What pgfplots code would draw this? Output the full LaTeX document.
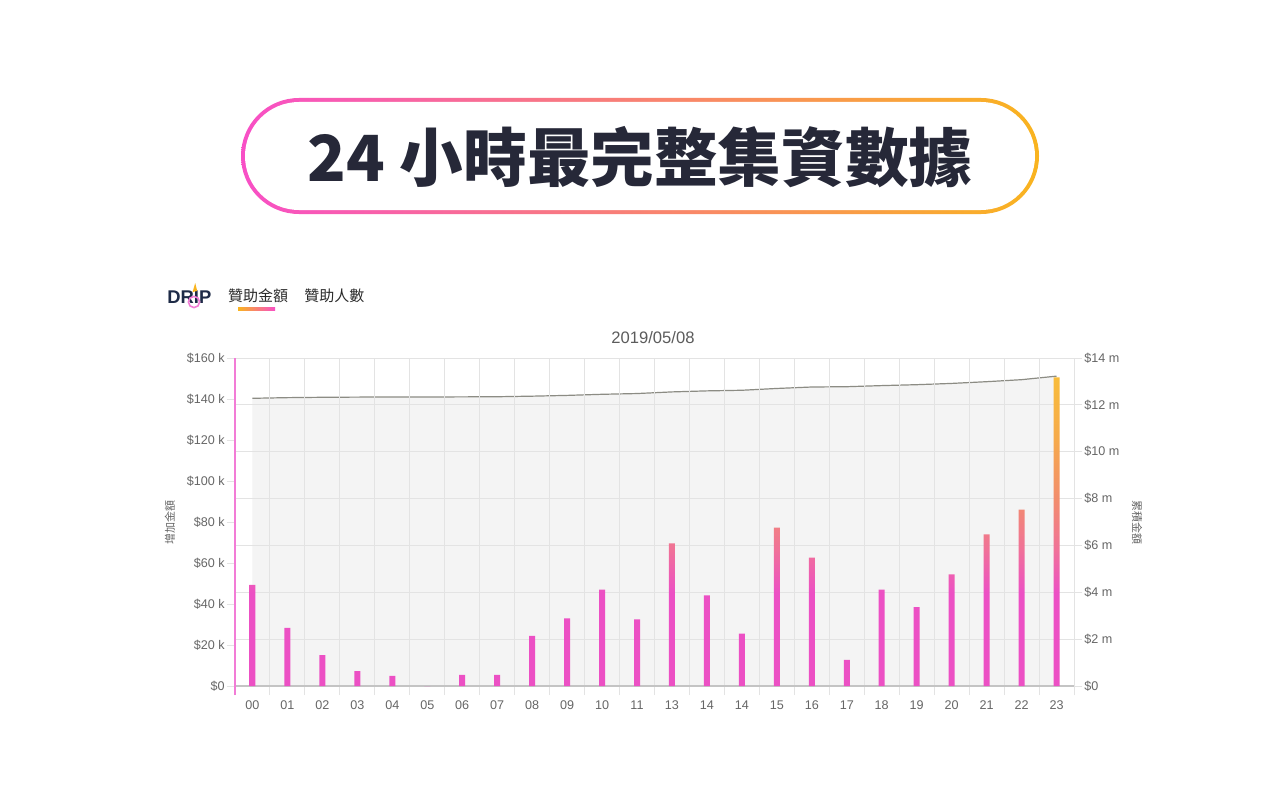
\documentclass[border=0pt]{standalone}
\usepackage{fontspec}
\setmainfont{Liberation Sans}
\newfontfamily\cjk{Noto Sans CJK TC}
\usepackage{pgfplots}
\usepackage{pgfplotstable}
\pgfplotsset{compat=1.18}

\definecolor{titlenavy}{HTML}{262838}
\definecolor{framepink}{HTML}{F84FC6}
\definecolor{frameorange}{HTML}{F9B41F}
\definecolor{logonavy}{HTML}{1E2B47}
\definecolor{tabtext}{HTML}{2A2A2A}
\definecolor{ticktext}{HTML}{666666}
\definecolor{gridgray}{HTML}{E3E3E3}
\definecolor{axisgray}{HTML}{C4C4C4}
\definecolor{axispink}{HTML}{F27CD6}
\definecolor{areagray}{HTML}{F4F4F4}
\definecolor{linegray}{HTML}{8C8C84}
\definecolor{barpink}{RGB}{236,80,196}
\definecolor{barsalmon}{RGB}{240,115,150}
\definecolor{barorange}{RGB}{242,140,110}
\definecolor{baramber}{RGB}{246,170,75}
\definecolor{baryellow}{RGB}{248,188,58}

% one gradient for all bars: pink at $0, yellow at the tallest bar
\pgfdeclareverticalshading{barshade}{100bp}{color(0bp)=(barpink); color(25bp)=(barpink);
  color(40bp)=(barpink); color(47.5bp)=(barsalmon); color(55bp)=(barorange);
  color(65bp)=(baramber); color(75bp)=(baryellow); color(100bp)=(baryellow)}

% x = hour slot, amt = raised in the hour (k), cum = running total (m)
\pgfplotstableread{
x  amt    cum
0  49.3   12.280
1  28.3   12.308
2  15.1   12.323
3  7.3    12.331
4  4.9    12.336
5  0      12.336
6  5.4    12.341
7  5.4    12.347
8  24.4   12.371
9  33.0   12.404
10 47.0   12.451
11 32.5   12.483
12 69.6   12.553
13 44.2   12.597
14 25.5   12.623
15 77.2   12.700
16 62.6   12.762
17 12.7   12.775
18 47.0   12.822
19 38.5   12.861
20 54.5   12.915
21 74.0   12.989
22 86.0   13.075
23 150.6  13.226
}\hourly

\pgfplotsset{
  dripaxis/.style={
    at={(117.5pt,57pt)}, anchor=south west,
    scale only axis, width=419.5pt, height=164pt,
    xmin=-0.5, xmax=23.5, ymin=0,
    tick align=outside,
    major tick length=4pt, minor tick length=4.5pt,
    tick label style={font=\fontsize{6.3}{7.5}\selectfont, text=ticktext},
    tick style={draw=gridgray, line width=0.5pt},
    grid style={draw=gridgray, line width=0.5pt},
  },
}

\begin{document}
\begin{tikzpicture}
\fill[white] (0,0) rectangle (640pt,400pt);
\useasboundingbox (0,0) rectangle (640pt,400pt);

% headline in a pill with a pink-to-orange border
\shade[left color=framepink, right color=frameorange, rounded corners=29pt]
  (120.5pt,293pt) rectangle (519.5pt,351pt);
\fill[white, rounded corners=27pt] (122.5pt,295pt) rectangle (517.5pt,349pt);
\node[font=\cjk\bfseries\fontsize{31.8}{38}\selectfont, text=titlenavy]
  at (320pt,321.5pt) {24 小時最完整集資數據};

% logo and tabs
\node[font=\bfseries\fontsize{9.2}{11}\selectfont, text=logonavy, anchor=west, inner sep=0pt]
  at (83.5pt,251.5pt) {DRIP};
\draw[axispink, line width=0.8pt] (97pt,249pt) circle (2.8pt);
\fill[frameorange] (96.3pt,254pt) -- (97.6pt,258.5pt) -- (98.6pt,254.5pt) -- cycle;
\node[font=\cjk\fontsize{7.5}{9}\selectfont, text=tabtext] at (129pt,252pt) {贊助金額};
\node[font=\cjk\fontsize{7.5}{9}\selectfont, text=tabtext] at (167.2pt,252pt) {贊助人數};
\shade[left color=frameorange, right color=framepink] (119pt,244.7pt) rectangle (137.5pt,246.2pt);

% running total: grey area and line on the right axis
\begin{axis}[dripaxis,
  ymax=14,
  hide x axis,
  axis y line*=right,
  y axis line style={draw=gridgray, line width=0.5pt, shorten <=-4.5pt},
  ytick={0,2,4,6,8,10,12,14},
  yticklabels={\$0,\$2 m,\$4 m,\$6 m,\$8 m,\$10 m,\$12 m,\$14 m},
  yticklabel style={inner sep=1pt},
  ymajorgrids, axis on top,
]
\addplot[fill=areagray, draw=none] table[x=x, y=cum]{\hourly} \closedcycle;
\addplot[linegray, line width=0.6pt] table[x=x, y=cum]{\hourly};
\end{axis}

% hourly amount: bars on the left axis
\begin{axis}[dripaxis,
  ymax=160,
  axis x line*=bottom, axis y line*=left,
  x axis line style={draw=axisgray, line width=0.6pt},
  y axis line style={draw=axispink, line width=1pt, shorten <=-4.5pt},
  xtick={0,...,23},
  xticklabels={00,01,02,03,04,05,06,07,08,09,10,11,13,14,14,15,16,17,18,19,20,21,22,23},
  minor xtick={-0.5,0.5,...,23.5},
  xminorgrids,
  minor grid style={draw=gridgray, line width=0.5pt},
  major x tick style={draw=none},
  ytick={0,20,40,60,80,100,120,140,160},
  yticklabels={\$0,\$20 k,\$40 k,\$60 k,\$80 k,\$100 k,\$120 k,\$140 k,\$160 k},
  yticklabel style={inner sep=1pt},
]
\addplot[ybar, bar width=3pt, draw=none, shade, shading=barshade] table[x=x, y=amt]{\hourly};
\end{axis}

\node[font=\fontsize{8.3}{10}\selectfont, text=ticktext!90!black] at (326.5pt,231pt) {2019/05/08};
\node[font=\cjk\fontsize{5.5}{7}\selectfont, text=ticktext, rotate=90] at (85pt,139pt) {增加金額};
\node[font=\cjk\fontsize{5.5}{7}\selectfont, text=ticktext, rotate=-90] at (568.5pt,139pt) {累積金額};
\end{tikzpicture}
\end{document}
